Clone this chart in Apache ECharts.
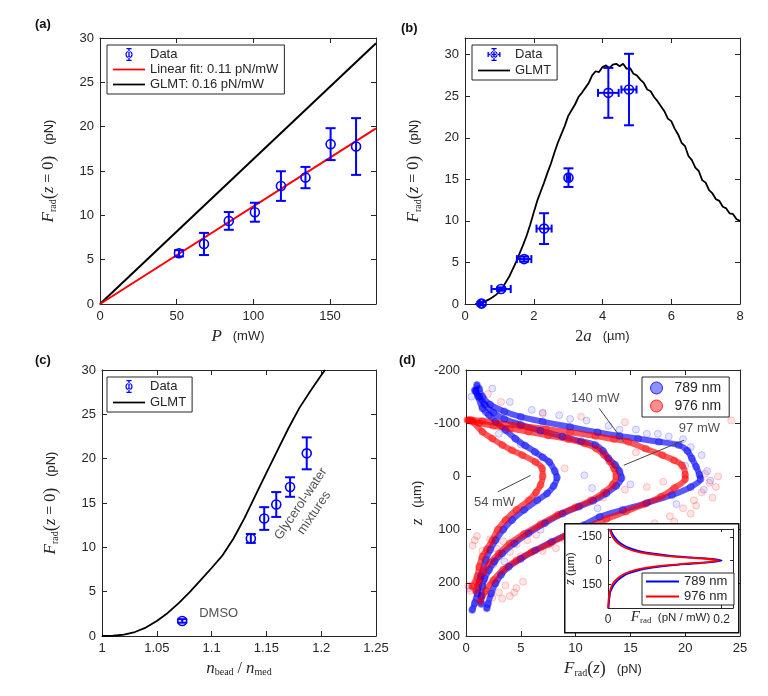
<!DOCTYPE html>
<html>
<head>
<meta charset="utf-8">
<script src="https://cdn.jsdelivr.net/npm/echarts@6/dist/echarts.min.js"></script>
<style>
html, body { margin: 0; padding: 0; background: #fff; }
#main { width: 768px; height: 696px; }
</style>
</head>
<body>
<div id="main"></div>
<script>
// ---- (a) force vs power
var powerP = [51.5, 67.8, 84, 101, 118, 134, 150.4, 167];
var powerF = [5.72, 6.77, 9.37, 10.35, 13.3, 14.26, 18.03, 17.76];
var powerErr = [0.35, 1.25, 1.0, 1.07, 1.67, 1.2, 1.8, 3.2];
var fitLineA = [[0, 0], [180, 19.8]];
var glmtLineA = [[0, 0], [180, 29.4]];

// ---- (b) force vs bead diameter
var sizeD = [0.48, 1.05, 1.72, 2.3, 3.01, 4.17, 4.77];
var sizeF = [0.05, 1.8, 5.4, 9.07, 15.2, 25.4, 25.8];
var sizeXErr = [0.05, 0.28, 0.21, 0.22, 0.05, 0.3, 0.22];
var sizeYErr = [0.2, 0.2, 0.3, 1.85, 1.12, 3.0, 4.3];
var glmtB = [[0.3,0],[0.4,0.05],[0.5,0.18],[0.6,0.35],[0.7,0.55],[0.8,0.8],[0.9,1.1],[1.0,1.5],
  [1.1,2.0],[1.2,2.7],[1.3,3.4],[1.4,4.3],[1.5,5.2],[1.6,6.2],[1.7,7.2],[1.8,8.3],[1.9,9.6],[2.0,11.0],
  [2.1,12.4],[2.2,13.5],[2.3,14.6],[2.4,15.8],[2.5,16.9],[2.6,18.2],[2.7,19.4],[2.8,20.4],[2.9,21.4],
  [3.0,22.6],[3.1,23.3],[3.2,24.0],[3.3,24.9],[3.4,25.4],[3.5,26.0],[3.6,26.6],[3.7,27.5],[3.8,28.0],
  [3.9,27.9],[4.0,28.5],[4.1,28.7],[4.2,28.4],[4.3,28.8],[4.4,28.9],[4.5,28.6],[4.6,28.9],[4.7,28.3],
  [4.8,28.4],[4.9,27.7],[5.0,27.5],[5.1,27.0],[5.2,26.6],[5.3,25.8],[5.4,25.6],[5.5,24.9],[5.6,24.4],
  [5.7,23.8],[5.8,23.2],[5.9,22.3],[6.0,22.0],[6.1,21.1],[6.2,20.4],[6.3,19.4],[6.4,19.0],[6.5,17.8],
  [6.6,17.3],[6.7,16.4],[6.8,16.0],[6.9,14.9],[7.0,14.6],[7.1,13.7],[7.2,13.3],[7.3,12.6],[7.4,12.4],
  [7.5,11.7],[7.6,11.5],[7.7,10.9],[7.8,10.8],[7.9,10.2],[8.0,10.0]];

// ---- (c) force vs relative index
var indexN = [1.0732, 1.1358, 1.148, 1.159, 1.1716, 1.1868];
var indexF = [1.7, 11.0, 13.25, 14.83, 16.8, 20.6];
var indexErr = [0.2, 0.5, 1.28, 1.4, 1.1, 1.8];
var glmtC = [[1.0,0],[1.01,0.03],[1.02,0.15],[1.03,0.45],[1.04,0.95],[1.05,1.7],[1.06,2.6],[1.07,3.7],
  [1.08,4.94],[1.09,6.3],[1.1,7.67],[1.11,9.1],[1.12,11.0],[1.13,13.3],[1.14,15.85],[1.15,18.4],
  [1.16,20.9],[1.17,23.4],[1.18,25.7],[1.19,27.6],[1.2,29.4],[1.2035,30]];

// ---- (d) axial force profiles [F, z]
var blue54 = [[1.0,-172],[0.9,-160],[1.1,-150],[1.5,-128],[2.1,-115],[2.7,-103],[3.6,-87],[4.5,-71],
  [5.4,-58],[6.3,-46],[7.0,-36],[7.6,-27],[8.1,-10],[8.3,2],[8.0,18],[7.4,32],[6.5,45],[5.3,63],
  [4.2,82],[3.4,100],[2.7,120],[2.2,138],[1.8,157],[1.33,188],[1.03,220],[0.8,238],[0.57,251]];
var red54 = [[0.12,-106],[0.57,-103],[1.49,-84],[2.4,-71],[3.31,-59],[4.2,-49],[5.13,-40],[6.34,-27],
  [6.95,-15],[7.0,0],[6.8,16],[6.4,30],[5.74,45],[4.6,63],[3.61,82],[2.9,100],[2.4,120],[1.9,137],
  [1.49,151],[1.2,170],[1.03,188],[0.57,207]];
var blue97 = [[0.8,-162],[1.2,-150],[1.7,-135],[2.5,-120],[3.5,-108],[5.0,-97],[6.8,-86],[8.8,-75],
  [10.5,-66],[11.8,-59],[12.5,-48],[13.0,-34],[13.6,-22],[14.0,-10],[14.2,3],[13.7,18],[12.8,32],
  [11.6,46],[10.3,57],[8.8,70],[7.2,88],[5.7,107],[4.4,126],[3.3,145],[2.6,160],[2.1,176],[1.7,192],
  [1.5,207],[1.4,225],[1.4,240]];
var red97 = [[0.3,-106],[1.2,-100],[2.5,-95],[4.0,-90],[5.7,-84],[7.5,-77],[9.3,-70],[10.8,-62],
  [11.9,-52],[12.6,-40],[13.1,-28],[13.5,-15],[13.7,0],[13.4,15],[12.6,30],[11.4,45],[10.0,58],
  [8.4,72],[6.8,90],[5.3,108],[4.0,126],[3.0,145],[2.2,162],[1.6,180],[1.2,198],[0.9,215]];
var blue140 = [[1.2,-165],[1.5,-150],[2.2,-135],[3.5,-122],[5.0,-112],[7.0,-103],[9.5,-93],[12.0,-83],
  [14.0,-76],[15.7,-71],[17.6,-65],[19.4,-59],[20.2,-48],[20.6,-34],[21.0,-18],[21.3,-3],[21.4,5],
  [20.5,20],[18.8,35],[16.5,50],[14.3,63],[12.2,76],[10.7,92],[9.4,107],[7.8,123],[6.3,139],
  [5.0,155],[3.9,170],[3.2,185],[2.7,201],[2.3,220],[2.0,240],[1.9,248]];
var red140 = [[0.5,-106],[1.5,-104],[3.0,-100],[5.0,-95],[7.3,-89],[9.5,-83],[11.8,-76],[13.5,-70],
  [14.8,-65],[16.4,-52],[17.9,-40],[19.0,-30],[19.7,-21],[20.0,-3],[20.0,5],[19.0,22],[17.8,38],
  [16.3,52],[14.6,66],[12.8,80],[11.0,95],[9.2,110],[7.6,127],[6.0,142],[4.6,158],[3.4,175],
  [2.5,195],[1.8,215],[1.3,235]];
var redScatter = [[24.2,-105],[14.5,-102],[10.5,-112],[7.0,-118],[3.2,-140],[2.0,-155],
  [21.8,-5],[22.2,12],[21.5,30],[20.8,45],[19.8,60],[18.6,75],[17.2,88],[16.0,95],[14.8,104],
  [13.2,110],[12.0,118],[10.6,122],[9.0,118],[8.2,135],[1.0,112],[2.2,118],[3.4,122],[4.6,128],
  [5.6,120],[0.6,130],[2.8,136],[4.0,142],[6.4,110],[1.5,195],[2.6,200],[3.6,205],[4.6,210],
  [3.0,218],[1.8,222],[4.0,225],[0.4,215],[1.0,230],[5.2,198],[16.5,20],[18.0,10],[12.5,40],
  [9.0,-15],[14.5,25],[15.5,-45],[20.5,70],[19.0,85],[17.8,95],[16.8,105],[15.2,112],[13.8,120],
  [21.0,55],[22.5,40],[20.0,100],[11.5,130],[7.0,140],[5.0,150],[3.0,150],[1.5,140],[0.8,120],
  [2.0,205],[3.3,230],[2.4,228],[4.4,218],[0.2,205],[23.0,0],[22.8,20]];
var blueScatter = [[4.0,-140],[6.0,-125],[8.5,-115],[11.0,-105],[13.0,-95],[15.5,-88],[17.5,-80],
  [19.8,-70],[21.5,-40],[22.0,-10],[21.7,25],[19.2,52],[11.5,22],[15.0,15],[5.0,-60],[3.0,-80],
  [2.5,165],[3.5,160],[1.0,200],[0.3,210],[6.8,100],[10.8,-2],[12.0,60],[0.5,-150],[2.4,-165],
  [20.5,-55],[18.5,-75],[16.5,-80],[14.0,-88],[9.5,-108],[7.0,-120],[20.0,-20],[22.3,8],[4.5,-100],[1.8,-120]];
var powerLabels = [
  {value: [11.8, -147], name: '140 mW'},
  {value: [21.3, -91], name: '97 mW'},
  {value: [2.6, 48], name: '54 mW'}
];
var pointer140 = [[12.15, -128], [14.4, -65]];
var pointer97 = [[19.9, -68], [14.4, -21]];
var pointer54 = [[2.9, 29], [5.9, -2]];

// ---- (d) inset: force per mW
var insetZ = [-200,-175,-150,-125,-100,-80,-60,-45,-30,-20,-10,0,10,20,30,45,60,80,100,125,150,175,200,250,300];
var insetBlue = [0.004,0.007,0.011,0.017,0.026,0.037,0.055,0.078,0.111,0.145,0.182,0.2,0.182,0.145,0.111,0.078,0.055,0.037,0.026,0.017,0.011,0.007,0.004,0.002,0.001];
var insetRed = [0.003,0.005,0.008,0.013,0.021,0.031,0.047,0.068,0.1,0.135,0.175,0.195,0.175,0.135,0.1,0.068,0.047,0.031,0.021,0.013,0.008,0.005,0.003,0.001,0.0];

var SANS = '"Liberation Sans", Arial, sans-serif';
var SERIF = '"Liberation Serif", "DejaVu Serif", serif';
var BLUE = '#0000ff';
var RED = '#ff0000';
var INK = '#262626';

var DATA_ICON = 'path://M9,0h2v20h-2z M6,0h8v2h-8z M6,18h8v2h-8z M10,4.5a5.5,5.5 0 1,0 0.001,0z M10,6.2a3.8,3.8 0 1,1 -0.001,0z';
var DATA_ICON_B = 'path://M9,0h2v20h-2z M6,0h8v2h-8z M6,18h8v2h-8z M0,9h20v2h-20z M0,6h2v8h-2z M18,6h2v8h-2z M10,4.5a5.5,5.5 0 1,0 0.001,0z M10,6.2a3.8,3.8 0 1,1 -0.001,0z';
var LINE_ICON = 'path://M0,0h40v2.2h-40z';

var nameRich = {
    it: {fontFamily: SERIF, fontStyle: 'italic', fontSize: 17, color: INK},
    n: {fontFamily: SERIF, fontSize: 16, color: INK},
    sub: {fontFamily: SERIF, fontSize: 10, color: INK, verticalAlign: 'bottom'},
    par: {fontFamily: SERIF, fontSize: 18, color: INK},
    u: {fontFamily: SANS, fontSize: 13, color: INK}
};
var smallRich = {
    it: {fontFamily: SERIF, fontStyle: 'italic', fontSize: 15, color: INK},
    sub: {fontFamily: SERIF, fontSize: 9, color: INK, verticalAlign: 'bottom'},
    u: {fontFamily: SANS, fontSize: 11.5, color: INK}
};

// one box of four axes (ticks inside on every side, MATLAB style)
var xAxes = [], yAxes = [];
function boxAxes(gi, xr, yr, xname, yname, opt) {
    opt = opt || {};
    var fs = opt.fontSize || 13;
    var z = opt.z || 0;
    var rich = opt.rich || nameRich;
    var line = {show: true, onZero: false, lineStyle: {color: INK, width: 1}};
    var tick = function (vals) {
        return {show: true, inside: true, length: opt.tickLen || 5, customValues: vals, lineStyle: {color: INK}};
    };
    xAxes.push({
        gridIndex: gi, type: 'value', min: xr[0], max: xr[1], position: 'bottom', z: z,
        axisLine: line, axisTick: tick(xr[2]), splitLine: {show: false},
        axisLabel: {customValues: xr[2], fontSize: fs, fontFamily: SANS, color: INK, margin: 6},
        name: xname, nameLocation: 'middle', nameGap: opt.xGap || 24, nameMoveOverlap: false,
        nameTextStyle: {rich: rich, fontFamily: SANS, fontSize: fs, color: INK}
    });
    xAxes.push({
        gridIndex: gi, type: 'value', min: xr[0], max: xr[1], position: 'top', z: z,
        axisLine: line, axisTick: tick(xr[2]), axisLabel: {show: false}, splitLine: {show: false}
    });
    yAxes.push({
        gridIndex: gi, type: 'value', min: yr[0], max: yr[1], inverse: !!opt.inverse, position: 'left', z: z,
        axisLine: line, axisTick: tick(yr[2]), splitLine: {show: false},
        axisLabel: {customValues: yr[2], fontSize: fs, fontFamily: SANS, color: INK, margin: 6},
        name: yname, nameLocation: 'middle', nameGap: opt.yGap || 40, nameMoveOverlap: false,
        nameTextStyle: {rich: rich, fontFamily: SANS, fontSize: fs, color: INK}
    });
    yAxes.push({
        gridIndex: gi, type: 'value', min: yr[0], max: yr[1], inverse: !!opt.inverse, position: 'right', z: z,
        axisLine: line, axisTick: tick(yr[2]), axisLabel: {show: false}, splitLine: {show: false}
    });
}

var fName = '{it|F}{sub|rad}{par|(}{it|z}{n| = 0}{par|)}{u|   (pN)}';
boxAxes(0, [0, 180, [0, 50, 100, 150]], [0, 30, [0, 5, 10, 15, 20, 25, 30]],
    '{it|P}{u|   (mW)}', fName, {xGap: 24, yGap: 42});
boxAxes(1, [0, 8, [0, 2, 4, 6, 8]], [0, 32, [0, 5, 10, 15, 20, 25, 30]],
    '{n|2}{it|a}{u|   (µm)}', fName, {xGap: 24, yGap: 42});
boxAxes(2, [1, 1.25, [1, 1.05, 1.1, 1.15, 1.2, 1.25]], [0, 30, [0, 5, 10, 15, 20, 25, 30]],
    '{it|n}{sub|bead}{n| / }{it|n}{sub|med}', fName, {xGap: 24, yGap: 42});
boxAxes(3, [0, 25, [0, 5, 10, 15, 20, 25]], [-200, 300, [-200, -100, 0, 100, 200, 300]],
    '{it|F}{sub|rad}{par|(}{it|z}{par|)}{u|   (pN)}', '{it|z}{u|   (µm)}', {xGap: 24, yGap: 40, inverse: true});
boxAxes(4, [0, 0.22, [0, 0.2]], [-200, 300, [-150, 0, 150]],
    '{it|F}{sub|rad}{u|  (pN / mW)}', '{it|z}{u| (µm)}',
    {xGap: 2, yGap: 30, inverse: true, fontSize: 12, z: 60, rich: smallRich, tickLen: 3});

function errRender(params, api) {
    var x = api.value(0), y = api.value(1), dy = api.value(2), dx = api.value(3);
    var c = api.coord([x, y]);
    var t = api.coord([x, y + dy]);
    var b = api.coord([x, y - dy]);
    var cap = 5;
    function st() { return {stroke: BLUE, lineWidth: 2, fill: null}; }
    var kids = [
        {type: 'line', shape: {x1: c[0], y1: t[1], x2: c[0], y2: b[1]}, style: st()},
        {type: 'line', shape: {x1: c[0] - cap, y1: t[1], x2: c[0] + cap, y2: t[1]}, style: st()},
        {type: 'line', shape: {x1: c[0] - cap, y1: b[1], x2: c[0] + cap, y2: b[1]}, style: st()}
    ];
    if (dx > 0) {
        var l = api.coord([x - dx, y]);
        var r = api.coord([x + dx, y]);
        kids.push({type: 'line', shape: {x1: l[0], y1: c[1], x2: r[0], y2: c[1]}, style: st()});
        kids.push({type: 'line', shape: {x1: l[0], y1: c[1] - 4, x2: l[0], y2: c[1] + 4}, style: st()});
        kids.push({type: 'line', shape: {x1: r[0], y1: c[1] - 4, x2: r[0], y2: c[1] + 4}, style: st()});
    }
    kids.push({type: 'circle', shape: {cx: c[0], cy: c[1], r: 4.5}, style: {stroke: BLUE, lineWidth: 1.6, fill: 'none'}});
    return {type: 'group', children: kids};
}

function errData(xs, ys, ye, xe) {
    var out = [];
    for (var i = 0; i < xs.length; i++) {
        out.push([xs[i], ys[i], ye[i], xe ? xe[i] : 0]);
    }
    return out;
}

function lineSeries(name, data, gi, color, width, z) {
    return {
        name: name, type: 'line', data: data, xAxisIndex: gi * 2, yAxisIndex: gi * 2,
        symbol: 'none', lineStyle: {color: color, width: width || 1.8}, itemStyle: {color: color},
        z: z || 3, animation: false
    };
}

function bandSeries(data, rgb) {
    return {
        type: 'line', data: data, xAxisIndex: 6, yAxisIndex: 6, smooth: 0.3,
        symbol: 'circle', symbolSize: 7, showSymbol: true,
        itemStyle: {color: 'rgba(' + rgb + ',0.25)', borderColor: 'rgba(' + rgb + ',0.35)', borderWidth: 1},
        lineStyle: {color: 'rgba(' + rgb + ',0.65)', width: 6, cap: 'round', join: 'round'},
        z: 2, animation: false, silent: true
    };
}

function pointerSeries(data) {
    return {
        type: 'line', data: data, xAxisIndex: 6, yAxisIndex: 6, symbol: 'none',
        lineStyle: {color: '#444', width: 1}, z: 4, animation: false, silent: true
    };
}

var series = [];
// (a)
series.push(lineSeries('GLMT: 0.16 pN/mW', glmtLineA, 0, '#000', 2));
series.push(lineSeries('Linear fit: 0.11 pN/mW', fitLineA, 0, RED, 2));
series.push({name: 'Data', type: 'custom', xAxisIndex: 0, yAxisIndex: 0, renderItem: errRender,
    data: errData(powerP, powerF, powerErr), encode: {x: 0, y: 1}, itemStyle: {color: BLUE}, z: 5});
// (b)
series.push(lineSeries('GLMT', glmtB, 1, '#000', 1.8));
series.push({name: 'Data', type: 'custom', xAxisIndex: 2, yAxisIndex: 2, renderItem: errRender,
    data: errData(sizeD, sizeF, sizeYErr, sizeXErr), encode: {x: 0, y: 1}, itemStyle: {color: BLUE}, z: 5});
// (c)
series.push(lineSeries('GLMT', glmtC, 2, '#000', 1.8));
series.push({name: 'Data', type: 'custom', xAxisIndex: 4, yAxisIndex: 4, renderItem: errRender,
    data: errData(indexN, indexF, indexErr), encode: {x: 0, y: 1}, itemStyle: {color: BLUE}, z: 5});
series.push({type: 'scatter', xAxisIndex: 4, yAxisIndex: 4, symbolSize: 0, silent: true,
    data: [
        {value: [1.1065, 2.56], name: 'DMSO'},
        {value: [1.1875, 14.4], name: 'Glycerol-water\nmixtures', label: {rotate: 56}}
    ],
    label: {show: true, position: 'inside', formatter: '{b}', fontFamily: SANS, fontSize: 13, color: INK, lineHeight: 16}
});
// (d)
series.push({name: '789 nm', type: 'scatter', xAxisIndex: 6, yAxisIndex: 6, data: blueScatter, symbolSize: 7,
    itemStyle: {color: 'rgba(0,0,255,0.12)', borderColor: 'rgba(0,0,255,0.25)', borderWidth: 1}, z: 1, silent: true});
series.push({name: '976 nm', type: 'scatter', xAxisIndex: 6, yAxisIndex: 6, data: redScatter, symbolSize: 7,
    itemStyle: {color: 'rgba(255,0,0,0.12)', borderColor: 'rgba(255,0,0,0.25)', borderWidth: 1}, z: 1, silent: true});
series.push(bandSeries(blue140, '0,0,255'));
series.push(bandSeries(blue97, '0,0,255'));
series.push(bandSeries(blue54, '0,0,255'));
series.push(bandSeries(red140, '255,0,0'));
series.push(bandSeries(red97, '255,0,0'));
series.push(bandSeries(red54, '255,0,0'));
series.push(pointerSeries(pointer140));
series.push(pointerSeries(pointer97));
series.push(pointerSeries(pointer54));
series.push({type: 'scatter', xAxisIndex: 6, yAxisIndex: 6, symbolSize: 0, silent: true, data: powerLabels, z: 4,
    label: {show: true, position: 'inside', formatter: '{b}', fontFamily: SANS, fontSize: 13, color: INK}});
// inset
var insetB = insetZ.map(function (z, i) { return [insetBlue[i], z]; });
var insetR = insetZ.map(function (z, i) { return [insetRed[i], z]; });
var sB = lineSeries('789 nm ', insetB, 4, BLUE, 1.8, 61);
var sR = lineSeries('976 nm ', insetR, 4, RED, 1.8, 62);
sB.smooth = 0.3;
sR.smooth = 0.3;
series.push(sB, sR);

function legendBox(left, top, items, extra) {
    var l = {
        left: left, top: top, orient: 'vertical', data: items,
        backgroundColor: '#fff', borderColor: INK, borderWidth: 1, borderRadius: 0,
        padding: [3, 6, 3, 6], itemGap: 3, itemWidth: 32, itemHeight: 13, selectedMode: false,
        textStyle: {fontFamily: SANS, fontSize: 13, color: INK}
    };
    for (var k in extra) l[k] = extra[k];
    return l;
}
function lineItem(name, color) {
    return {name: name, icon: LINE_ICON, itemStyle: {color: color, borderWidth: 0}};
}

var option = {
    backgroundColor: '#fff',
    animation: false,
    title: [
        {text: '(a)', left: 35, top: 18},
        {text: '(b)', left: 401, top: 22},
        {text: '(c)', left: 35, top: 354},
        {text: '(d)', left: 399, top: 354}
    ].map(function (t) {
        t.padding = 0;
        t.textStyle = {fontFamily: SANS, fontSize: 13, fontWeight: 'bold', color: '#111'};
        return t;
    }),
    grid: [
        {left: 100, top: 38, width: 276, height: 266},
        {left: 465, top: 38, width: 275, height: 266},
        {left: 102, top: 370, width: 274, height: 266},
        {left: 466, top: 370, width: 274, height: 266},
        {left: 608, top: 529, width: 125, height: 79, show: true, backgroundColor: '#fff', borderWidth: 0, z: 55}
    ],
    graphic: [
        {type: 'rect', left: 564, top: 523, shape: {width: 174, height: 109}, z: 50,
            style: {fill: '#fff', stroke: '#111', lineWidth: 1.5}}
    ],
    xAxis: xAxes,
    yAxis: yAxes,
    legend: [
        legendBox(107, 45, [{name: 'Data', icon: DATA_ICON},
            lineItem('Linear fit: 0.11 pN/mW', RED), lineItem('GLMT: 0.16 pN/mW', '#000')], {itemGap: 2}),
        legendBox(472, 45, [{name: 'Data', icon: DATA_ICON_B}, lineItem('GLMT', '#000')]),
        legendBox(107, 377, [{name: 'Data', icon: DATA_ICON}, lineItem('GLMT', '#000')]),
        legendBox(642, 377, [
            {name: '789 nm', icon: 'circle', itemStyle: {color: 'rgba(0,0,255,0.55)', borderColor: BLUE, borderWidth: 1}},
            {name: '976 nm', icon: 'circle', itemStyle: {color: 'rgba(255,0,0,0.55)', borderColor: RED, borderWidth: 1}}
        ], {padding: [4, 8, 4, 8], itemWidth: 26, itemHeight: 12, itemGap: 4, textStyle: {fontFamily: SANS, fontSize: 14, color: INK}}),
        legendBox(642, 573, [lineItem('789 nm ', BLUE), lineItem('976 nm ', RED)],
            {padding: [2, 3, 2, 4], itemWidth: 33, itemHeight: 12, itemGap: 2, z: 62,
                textStyle: {fontFamily: SANS, fontSize: 13, color: INK}})
    ],
    series: series
};

var chart = echarts.init(document.getElementById('main'), null, {renderer: 'canvas'});
chart.setOption(option);
</script>
</body>
</html>
